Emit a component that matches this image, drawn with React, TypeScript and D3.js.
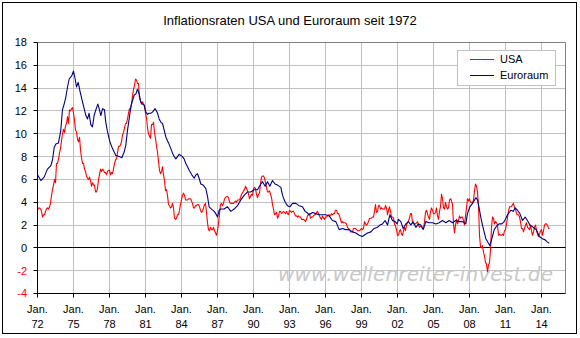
import React from 'react';
import * as d3 from 'd3';

const chartTitle = 'Inflationsraten USA und Euroraum seit 1972';
const seriesNames = ['USA', 'Euroraum'];
const seriesColors = ['#ff0000', '#000080'];
const watermarkText = 'www.wellenreiter-invest.de';

// US CPI, year-on-year %, monthly from Jan 1972
const usStartYear = 1972;
const usInflation = [
  3.3, 3.5, 3.5, 3.4, 3.2, 2.7, 2.9, 2.9, 3.2, 3.4, 3.5, 3.4,
  3.6, 3.9, 4.6, 5.1, 5.5, 6.0, 5.7, 7.4, 7.4, 7.8, 8.3, 8.7,
  9.4, 10.0, 10.4, 10.1, 10.7, 10.9, 11.5, 10.9, 12.1, 12.0, 12.2, 12.3,
  11.8, 11.2, 10.3, 10.2, 9.5, 9.3, 9.7, 8.6, 7.9, 7.4, 7.4, 6.9,
  6.7, 6.3, 6.1, 6.0, 6.2, 5.9, 5.4, 5.7, 5.5, 5.5, 4.9, 4.9,
  5.2, 6.0, 6.4, 6.9, 6.7, 6.9, 6.8, 6.6, 6.6, 6.4, 6.7, 6.8,
  6.8, 6.4, 6.6, 6.5, 6.9, 7.4, 7.7, 7.8, 8.3, 8.9, 8.9, 9.0,
  9.3, 9.9, 10.1, 10.5, 10.9, 10.9, 11.3, 11.8, 12.2, 12.1, 12.6, 13.3,
  13.9, 14.2, 14.8, 14.7, 14.4, 14.4, 13.1, 12.9, 12.6, 12.8, 12.6, 12.5,
  11.8, 11.4, 10.5, 10.0, 9.8, 9.6, 10.8, 10.8, 11.0, 10.1, 9.6, 8.9,
  8.4, 7.6, 6.8, 6.5, 6.7, 7.1, 6.4, 5.9, 5.0, 5.1, 4.6, 3.8,
  3.7, 3.5, 3.6, 3.9, 3.5, 2.6, 2.5, 2.6, 2.9, 2.9, 3.3, 3.8,
  4.2, 4.6, 4.8, 4.6, 4.2, 4.2, 4.2, 4.3, 4.3, 4.3, 4.1, 3.9,
  3.5, 3.5, 3.7, 3.7, 3.8, 3.8, 3.6, 3.3, 3.1, 3.2, 3.5, 3.8,
  3.9, 3.1, 2.2, 1.6, 1.5, 1.8, 1.6, 1.6, 1.8, 1.5, 1.3, 1.1,
  1.5, 2.1, 3.0, 3.8, 3.9, 3.7, 3.9, 4.3, 4.4, 4.5, 4.5, 4.4,
  4.0, 3.9, 3.9, 3.9, 3.9, 4.0, 4.1, 4.0, 4.2, 4.2, 4.2, 4.4,
  4.7, 4.8, 5.0, 5.1, 5.4, 5.2, 5.0, 4.7, 4.3, 4.5, 4.7, 4.6,
  5.2, 5.3, 5.2, 4.7, 4.4, 4.7, 4.8, 5.6, 6.2, 6.3, 6.3, 6.1,
  5.7, 5.3, 4.9, 4.9, 5.0, 4.7, 4.4, 3.8, 3.4, 2.9, 3.0, 3.1,
  2.6, 2.8, 3.2, 3.2, 3.0, 3.1, 3.2, 3.1, 3.0, 3.2, 3.0, 2.9,
  3.3, 3.2, 3.1, 3.2, 3.2, 3.0, 2.8, 2.8, 2.7, 2.8, 2.7, 2.7,
  2.5, 2.5, 2.5, 2.4, 2.3, 2.5, 2.8, 2.9, 3.0, 2.6, 2.7, 2.7,
  2.8, 2.9, 2.9, 3.1, 3.2, 3.0, 2.8, 2.6, 2.5, 2.8, 2.6, 2.5,
  2.7, 2.7, 2.8, 2.9, 2.9, 2.8, 3.0, 2.9, 3.0, 3.0, 3.3, 3.3,
  3.0, 3.0, 2.8, 2.5, 2.2, 2.3, 2.2, 2.2, 2.2, 2.1, 1.8, 1.7,
  1.6, 1.4, 1.4, 1.4, 1.7, 1.7, 1.7, 1.6, 1.5, 1.5, 1.5, 1.6,
  1.7, 1.6, 1.7, 2.3, 2.1, 2.0, 2.1, 2.3, 2.6, 2.6, 2.6, 2.7,
  2.7, 3.2, 3.8, 3.1, 3.2, 3.7, 3.7, 3.4, 3.5, 3.4, 3.4, 3.4,
  3.7, 3.5, 2.9, 3.3, 3.6, 3.2, 2.7, 2.7, 2.6, 2.1, 1.9, 1.6,
  1.1, 1.1, 1.5, 1.6, 1.2, 1.1, 1.5, 1.8, 1.5, 2.0, 2.2, 2.4,
  2.6, 3.0, 3.0, 2.2, 2.1, 2.1, 2.1, 2.2, 2.3, 2.0, 1.8, 1.9,
  1.9, 1.7, 1.7, 2.3, 3.1, 3.3, 3.0, 2.7, 2.5, 3.2, 3.5, 3.3,
  3.0, 3.0, 3.1, 3.5, 2.8, 2.5, 3.2, 3.6, 4.7, 4.3, 3.5, 3.4,
  4.0, 3.6, 3.4, 3.5, 4.2, 4.3, 4.1, 3.8, 2.1, 1.3, 2.0, 2.5,
  2.1, 2.4, 2.8, 2.6, 2.7, 2.7, 2.4, 2.0, 2.8, 3.5, 4.3, 4.1,
  4.3, 4.0, 4.0, 3.9, 4.2, 5.0, 5.6, 5.4, 4.9, 3.7, 1.1, 0.1,
  0.0, 0.2, -0.4, -0.7, -1.3, -1.4, -2.1, -1.5, -1.3, -0.2, 1.8, 2.7,
  2.6, 2.1, 2.3, 2.2, 2.0, 1.1, 1.2, 1.1, 1.1, 1.2, 1.1, 1.5,
  1.6, 2.1, 2.7, 3.2, 3.6, 3.6, 3.6, 3.8, 3.9, 3.5, 3.4, 3.0,
  2.9, 2.9, 2.7, 2.3, 1.7, 1.7, 1.4, 1.7, 2.0, 2.2, 1.8, 1.7,
  1.6, 2.0, 1.5, 1.1, 1.4, 1.8, 2.0, 1.5, 1.2, 1.0, 1.2, 1.5,
  1.6, 1.1, 1.5, 2.0, 2.1, 2.1, 2.0, 1.7, 1.7,
];

// Euro area inflation, % y/y (fractional years)
const euroYears = [
  1972.00, 1972.28, 1972.55, 1972.83, 1973.11, 1973.25, 1973.39, 1973.53, 1973.75, 1973.94,
  1974.08, 1974.22, 1974.36, 1974.50, 1974.64, 1974.86, 1975.00, 1975.14, 1975.25, 1975.39,
  1975.55, 1975.75, 1975.89, 1976.03, 1976.17, 1976.30, 1976.44, 1976.58, 1976.72, 1976.86,
  1977.03, 1977.14, 1977.28, 1977.42, 1977.58, 1977.69, 1977.83, 1978.03, 1978.25, 1978.53,
  1978.80, 1979.03, 1979.22, 1979.36, 1979.50, 1979.64, 1979.78, 1979.92, 1980.06, 1980.20,
  1980.33, 1980.47, 1980.60, 1980.75, 1980.89, 1981.03, 1981.17, 1981.30, 1981.44, 1981.58,
  1981.80, 1981.97, 1982.14, 1982.28, 1982.42, 1982.56, 1982.70, 1982.92, 1983.11, 1983.25,
  1983.39, 1983.53, 1983.80, 1984.08, 1984.22, 1984.36, 1984.50, 1984.64, 1984.86, 1985.06,
  1985.20, 1985.33, 1985.47, 1985.61, 1985.80, 1986.03, 1986.17, 1986.30, 1986.50, 1986.72,
  1986.86, 1987.00, 1987.14, 1987.28, 1987.55, 1987.83, 1988.11, 1988.39, 1988.67, 1988.94,
  1989.22, 1989.50, 1989.78, 1990.05, 1990.33, 1990.61, 1990.75, 1990.97, 1991.17, 1991.36,
  1991.58, 1991.80, 1992.00, 1992.28, 1992.42, 1992.64, 1992.83, 1993.03, 1993.25, 1993.53,
  1993.80, 1994.08, 1994.30, 1994.45, 1994.64, 1994.92, 1995.19, 1995.47, 1995.75, 1996.03,
  1996.30, 1996.58, 1996.86, 1997.14, 1997.42, 1997.69, 1997.97, 1998.25, 1998.53, 1998.80,
  1999.08, 1999.22, 1999.50, 1999.78, 2000.05, 2000.33, 2000.53, 2000.75, 2000.97, 2001.17,
  2001.36, 2001.58, 2001.80, 2001.97, 2002.08, 2002.28, 2002.47, 2002.69, 2002.92, 2003.11,
  2003.30, 2003.53, 2003.75, 2003.94, 2004.14, 2004.36, 2004.64, 2004.92, 2005.20, 2005.47,
  2005.75, 2006.03, 2006.30, 2006.58, 2006.86, 2007.14, 2007.42, 2007.69, 2007.83, 2008.03,
  2008.25, 2008.53, 2008.67, 2008.80, 2008.94, 2009.08, 2009.22, 2009.36, 2009.58, 2009.70,
  2009.86, 2010.06, 2010.25, 2010.47, 2010.69, 2010.89, 2011.17, 2011.45, 2011.64, 2011.81,
  2012.00, 2012.20, 2012.42, 2012.64, 2012.83, 2013.03, 2013.20, 2013.39, 2013.58, 2013.81,
  2014.08, 2014.30, 2014.50, 2014.64,
];
const euroInflation = [
  6.4, 5.9, 6.2, 6.9, 7.2, 7.7, 8.8, 9.1, 9.2, 10.3,
  12.1, 12.6, 13.2, 14.1, 14.8, 15.1, 15.5, 14.8, 14.1, 14.5,
  13.7, 12.8, 12.2, 11.6, 11.3, 11.8, 10.8, 10.6, 11.6, 12.1,
  12.6, 12.2, 11.6, 12.2, 12.1, 11.0, 10.2, 9.3, 8.7, 8.1,
  8.0, 7.9, 8.4, 9.0, 10.3, 11.3, 12.4, 12.9, 13.4, 13.5,
  13.9, 13.5, 12.8, 12.6, 12.5, 11.9, 11.7, 11.8, 11.8, 11.9,
  12.2, 11.9, 11.3, 11.0, 10.9, 10.3, 9.7, 9.2, 8.7, 8.3,
  8.0, 7.8, 8.2, 8.0, 7.8, 7.4, 7.1, 6.8, 6.4, 6.1,
  6.4, 6.5, 6.1, 5.6, 5.5, 5.2, 4.5, 3.6, 3.4, 3.2,
  3.0, 2.7, 3.3, 3.4, 3.4, 3.6, 3.2, 3.4, 3.7, 4.2,
  4.6, 4.9, 4.9, 5.1, 5.1, 5.6, 5.8, 5.4, 5.8, 5.4,
  5.9, 5.6, 5.5, 5.3, 4.6, 4.0, 3.7, 3.6, 3.9, 3.9,
  3.7, 3.6, 3.2, 3.1, 2.9, 3.1, 3.0, 2.9, 2.9, 2.9,
  2.8, 2.4, 2.3, 1.6, 1.7, 1.6, 1.6, 1.4, 1.3, 1.1,
  1.0, 1.1, 1.3, 1.4, 1.7, 1.8, 2.0, 2.1, 2.4, 2.0,
  2.9, 2.4, 2.3, 2.1, 2.5, 2.3, 1.7, 2.1, 2.3, 2.0,
  2.3, 1.8, 2.1, 2.0, 1.6, 2.3, 2.2, 2.2, 2.1, 2.2,
  2.4, 2.2, 2.4, 2.2, 2.4, 2.3, 2.3, 2.1, 3.0, 3.6,
  3.9, 4.4, 4.2, 3.5, 2.7, 2.0, 1.4, 0.8, 0.4, 0.2,
  0.8, 1.6, 1.9, 2.1, 2.1, 2.3, 2.9, 3.3, 3.2, 3.5,
  3.3, 3.0, 2.4, 2.7, 2.4, 2.0, 1.9, 1.7, 1.6, 1.0,
  0.8, 0.7, 0.5, 0.4,
];

const yTicks = [-4, -2, 0, 2, 4, 6, 8, 10, 12, 14, 16, 18];
const xTickYears = [1972, 1975, 1978, 1981, 1984, 1987, 1990, 1993, 1996, 1999, 2002, 2005, 2008, 2011, 2014];
const xDomain = [1972, 2016];

export default function App() {
  const W = 580;
  const H = 338;
  const left = 37.5, right = 565.5, top = 42.5, bottom = 293.5;
  const x = d3.scaleLinear().domain(xDomain).range([left, right]);
  const y = d3.scaleLinear().domain([yTicks[0], yTicks[yTicks.length - 1]]).range([bottom, top]);
  const snap = (p: number) => Math.round(p - 0.5) + 0.5;
  const line = d3.line<[number, number]>().x(d => x(d[0])).y(d => y(d[1]));
  const usPts: [number, number][] = usInflation.map((v, i) => [usStartYear + i / 12, v]);
  const euPts: [number, number][] = euroYears.map((t, i) => [t, euroInflation[i]]);
  const font = '"Liberation Sans", Arial, sans-serif';

  return (
    <svg width={W} height={H} style={{ position: 'absolute', left: 0, top: 0, background: '#fff' }}
      fontFamily={font}>
      <rect x={0} y={0} width={W} height={H} fill="#fff" />
      <rect x={2.5} y={2.5} width={574} height={331} fill="none" stroke="#000" strokeWidth={1} />
      <text x={290} y={25} textAnchor="middle" fontSize={13} fill="#000">{chartTitle}</text>

      {/* horizontal gridlines */}
      {yTicks.filter(t => t !== yTicks[0] && t !== 0).map(t => (
        <line key={'hg' + t} x1={left} x2={right} y1={snap(y(t))} y2={snap(y(t))} stroke="#c0c0c0" strokeWidth={1} />
      ))}
      {/* vertical gridlines */}
      {xTickYears.filter(t => t !== xDomain[0]).map(t => (
        <line key={'vg' + t} x1={snap(x(t))} x2={snap(x(t))} y1={top} y2={bottom} stroke="#c0c0c0" strokeWidth={1} />
      ))}
      {/* plot border top/right */}
      <line x1={left} x2={right} y1={top} y2={top} stroke="#808080" />
      <line x1={right} x2={right} y1={top} y2={bottom} stroke="#808080" />

      {/* watermark */}
      <text x={278} y={281} fontFamily='"DejaVu Sans", Verdana, sans-serif' fontStyle="italic" fontSize={20}
        fill="#c8c8c8" textLength={275} lengthAdjust="spacing">{watermarkText}</text>

      {/* zero line */}
      <line x1={left} x2={right} y1={snap(y(0))} y2={snap(y(0))} stroke="#000" strokeWidth={1} />

      {/* series */}
      <path d={line(usPts) || ''} fill="none" stroke={seriesColors[0]} strokeWidth={1.1} strokeLinejoin="round" />
      <path d={line(euPts) || ''} fill="none" stroke={seriesColors[1]} strokeWidth={1.1} strokeLinejoin="round" />

      {/* axes */}
      <line x1={left} x2={left} y1={top} y2={bottom} stroke="#000" />
      <line x1={left} x2={right} y1={bottom} y2={bottom} stroke="#000" />
      {yTicks.map(t => (
        <g key={'yt' + t}>
          <line x1={left - 4} x2={left} y1={snap(y(t))} y2={snap(y(t))} stroke="#000" />
          <text x={27} y={y(t)} dy="0.36em" textAnchor="end" fontSize={11} fill={t < 0 ? '#ff0000' : '#000'}>{t}</text>
        </g>
      ))}
      {xTickYears.map(t => (
        <g key={'xt' + t}>
          <line x1={snap(x(t))} x2={snap(x(t))} y1={bottom} y2={bottom + 4} stroke="#000" />
          <text x={x(t)} y={313} textAnchor="middle" fontSize={11} fill="#000">Jan.</text>
          <text x={x(t)} y={328} textAnchor="middle" fontSize={11} fill="#000">{String(t % 100).padStart(2, '0')}</text>
        </g>
      ))}

      {/* legend */}
      <rect x={457.5} y={50.5} width={98} height={35} fill="#fff" stroke="#c0c0c0" />
      {seriesNames.map((n, i) => (
        <g key={n}>
          <line x1={470} x2={494} y1={59.5 + i * 16} y2={59.5 + i * 16} stroke={seriesColors[i]} strokeWidth={1} />
          <text x={500} y={59 + i * 16} dy="0.36em" fontSize={11} fill="#000">{n}</text>
        </g>
      ))}
    </svg>
  );
}
